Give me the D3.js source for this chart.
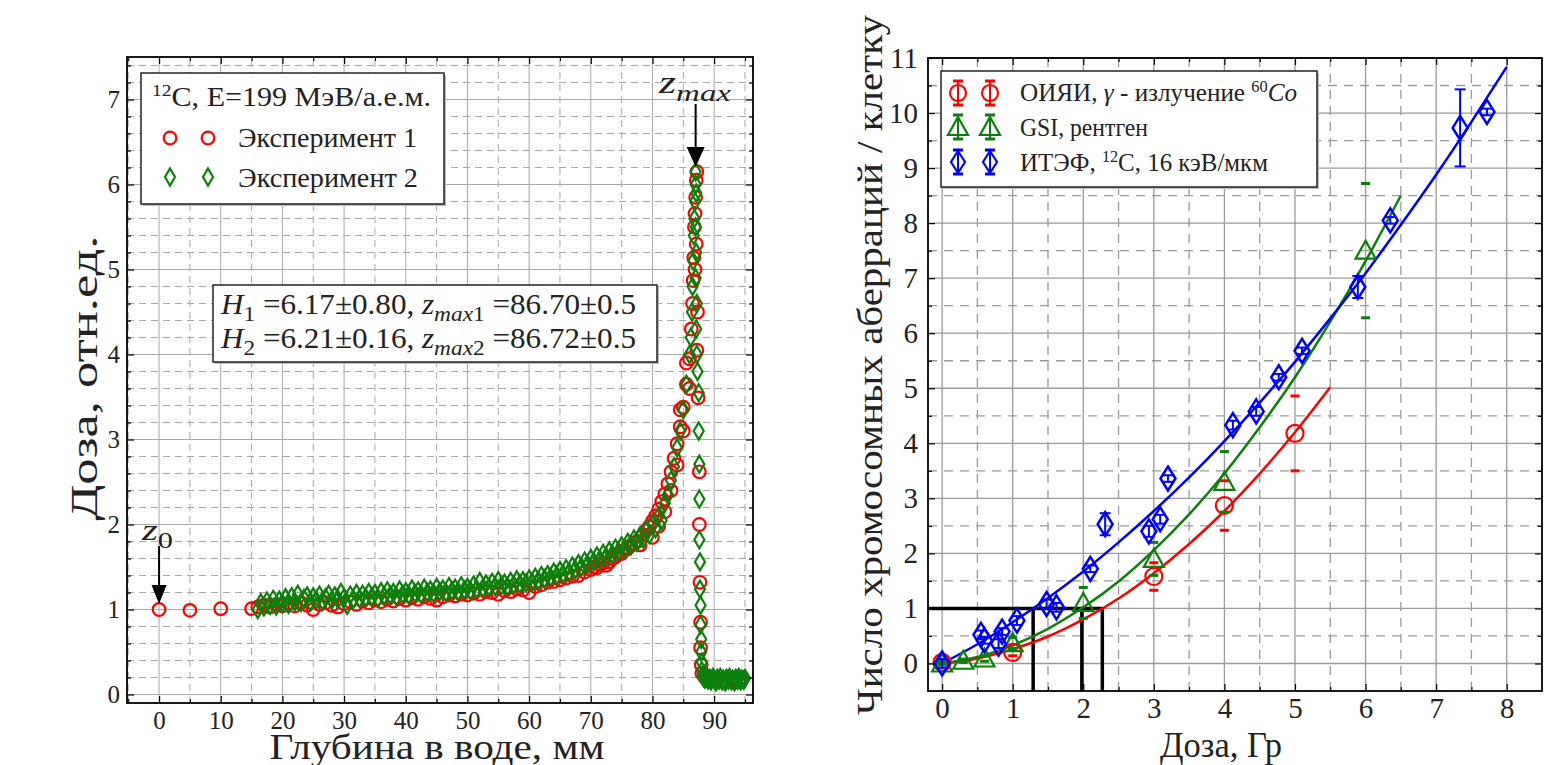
<!DOCTYPE html>
<html>
<head>
<meta charset="utf-8">
<script src="https://cdn.jsdelivr.net/npm/d3@7"></script>
<style>
  body { margin: 0; background: #fff; }
  svg text { font-family: "Liberation Serif", "DejaVu Serif", serif; fill: #222; white-space: pre; }
</style>
</head>
<body>
<svg id="fig" width="1551" height="765"></svg>
<script>
// ---------------- left panel: depth-dose curve (depth mm, relative dose) ----------------
const exp1Points = [
  [0,1.00],[5,0.99],[10,1.01],[15,1.01],
  [16,1.03],[17,1.05],[18,1.03],[19,1.06],[20,1.04],[21,1.07],[22,1.04],[23,1.08],[24,1.05],[25,1.00],
  [26,1.06],[27,1.08],[28,1.05],[29,1.03],[30,1.07],[31,1.09],[32,1.06],[33,1.10],[34,1.08],[35,1.11],
  [36,1.09],[37,1.12],[38,1.10],[39,1.13],[40,1.11],[41,1.14],[42,1.12],[43,1.15],[44,1.13],[45,1.11],
  [46,1.15],[47,1.17],[48,1.16],[49,1.18],[50,1.17],[51,1.19],[52,1.18],[53,1.21],[54,1.20],[55,1.18],
  [56,1.22],[57,1.21],[58,1.24],[59,1.23],[60,1.20],[61,1.27],[62,1.29],[63,1.32],[64,1.33],[65,1.35],
  [66,1.37],[67,1.39],[68,1.40],[69,1.44],[70,1.47],[70.5,1.50],[71,1.49],[71.5,1.53],[72,1.55],
  [72.5,1.52],[73,1.56],[73.5,1.60],[74,1.62],[74.5,1.65],[75,1.66],[75.5,1.70],[76,1.72],[76.5,1.75],
  [77,1.78],[77.5,1.80],[78,1.76],[78.5,1.88],[79,1.93],[79.5,1.98],[80,2.04],[80.5,2.10],[81,2.18],
  [81.5,2.27],[82,2.36],[82.5,2.48],[83,2.62],[83.5,2.78],[84,2.95],[84.5,3.15],[85,3.38],[85.5,3.65],
  [86,3.95],[80,1.85],[81,1.98],[82,2.15],[83,2.40],[84,2.70],[85,3.10],[86,3.60],[84.5,3.35],[85.5,3.90],
  [86.3,4.30],[86.5,4.60],[86.6,4.87],[86.7,5.14],[86.8,5.50],[86.9,5.66],[87,5.85],[87.1,6.05],
  [87.2,6.15],[86.9,5.00],[87.1,5.30],[87.3,4.50],[87.2,4.05],[87.4,3.49],
  [87.6,2.62],[87.6,2.00],[87.7,1.32],[87.8,0.85],[87.8,0.55],[87.9,0.35],[88,0.25],
  [88.5,0.20],[89,0.18],[90,0.17],[91,0.16],[92,0.16],[93,0.15],[94,0.15]
];
const exp2Points = [
  [16,1.00],[16.5,1.08],[17,1.03],[17.5,1.10],[18,1.05],[18.5,1.12],[19,1.04],[19.5,1.11],[20,1.07],
  [20.5,1.14],[21,1.06],[21.5,1.15],[22,1.09],[22.5,1.18],[23,1.08],[23.5,1.13],[24,1.16],[24.5,1.09],
  [25,1.15],[25.5,1.11],[26,1.17],[26.5,1.10],[27,1.14],[27.5,1.18],[28,1.11],[28.5,1.16],[29,1.12],
  [29.5,1.20],[30,1.14],[30.5,1.05],[31,1.17],[31.5,1.12],[32,1.19],[32.5,1.13],[33,1.18],[33.5,1.14],
  [34,1.20],[34.5,1.15],[35,1.19],[35.5,1.13],[36,1.21],[36.5,1.16],[37,1.22],[37.5,1.17],[38,1.20],
  [38.5,1.15],[39,1.23],[39.5,1.18],[40,1.21],[40.5,1.17],[41,1.24],[41.5,1.19],[42,1.22],[42.5,1.18],
  [43,1.25],[43.5,1.20],[44,1.23],[44.5,1.19],[45,1.26],[45.5,1.21],[46,1.24],[46.5,1.20],[47,1.27],
  [47.5,1.22],[48,1.25],[48.5,1.21],[49,1.28],[49.5,1.23],[50,1.26],[50.5,1.22],[51,1.29],[51.5,1.24],
  [52,1.33],[52.5,1.25],[53,1.30],[53.5,1.26],[54,1.32],[54.5,1.27],[55,1.34],[55.5,1.28],[56,1.31],
  [56.5,1.27],[57,1.33],[57.5,1.29],[58,1.35],[58.5,1.30],[59,1.34],[59.5,1.31],[60,1.36],[60.5,1.32],
  [61,1.38],[61.5,1.34],[62,1.40],[62.5,1.36],[63,1.41],[63.5,1.38],[64,1.44],[64.5,1.40],[65,1.46],
  [65.5,1.42],[66,1.48],[66.5,1.44],[67,1.51],[67.5,1.47],[68,1.54],[68.5,1.50],[69,1.57],[69.5,1.53],
  [70,1.60],[70.5,1.56],[71,1.63],[71.5,1.59],[72,1.66],[72.5,1.62],[73,1.69],[73.5,1.65],[74,1.72],
  [74.5,1.68],[75,1.75],[75.5,1.71],[76,1.79],[76.5,1.75],[77,1.83],[77.5,1.79],[78,1.87],[78.5,1.83],
  [79,1.93],[79.5,1.88],[80,2.00],[80.5,1.95],[81,2.10],[81.5,2.05],[82,2.25],[82.5,2.35],[83,2.52],
  [83.5,2.68],[84,2.90],[84.5,3.10],[85,3.35],[85.5,3.65],[86,4.00],
  [86.2,4.20],[86.4,4.50],[86.5,4.80],[86.6,5.10],[86.7,5.40],[86.8,5.60],[86.9,5.80],[87,6.00],
  [87,6.15],[87.1,5.90],[87,5.50],[87.1,5.20],[87,4.90],[87.2,4.60],[87.1,4.30],[87.2,4.00],[87.3,3.80],
  [87.5,3.55],[87.5,3.10],[87.6,2.71],[87.6,2.30],[87.6,1.82],[87.7,1.56],[87.7,1.24],[87.8,1.05],
  [87.8,0.82],[87.9,0.65],[87.9,0.50],[88,0.38],[88,0.28],[88.1,0.22],
  [88.3,0.20],[88.5,0.18],[88.8,0.21],[89,0.17],[89.3,0.19],[89.5,0.16],[89.8,0.20],[90,0.18],
  [90.3,0.15],[90.5,0.19],[90.8,0.17],[91,0.20],[91.3,0.16],[91.5,0.18],[91.8,0.15],[92,0.19],
  [92.3,0.17],[92.5,0.20],[92.8,0.16],[93,0.18],[93.3,0.15],[93.5,0.19],[93.8,0.17],[94,0.20],
  [94.3,0.16],[94.5,0.18],[94.8,0.17],[95,0.19]
];
const depthTicks = [0, 10, 20, 30, 40, 50, 60, 70, 80, 90];
const relDoseTicks = [0, 1, 2, 3, 4, 5, 6, 7];

// ---------------- right panel: aberrations per cell vs dose (Gy) ----------------
const jinrDose = [0, 1, 3, 4, 5];
const jinrAb   = [0.02, 0.20, 1.58, 2.87, 4.18];
const jinrErr  = [0.03, 0.06, 0.25, 0.45, 0.68];

const gsiDose = [0, 0.3, 0.6, 1, 2, 3, 4, 6];
const gsiAb   = [0.00, 0.05, 0.09, 0.37, 1.10, 1.90, 3.30, 7.50];
const gsiErr  = [0.03, 0.03, 0.05, 0.10, 0.28, 0.30, 0.55, 1.22];

const itepDose = [0, 0.55, 0.6, 0.8, 0.85, 1.06, 1.48, 1.62, 2.1, 2.31, 2.93, 3.09, 3.2, 4.12, 4.45, 4.77, 5.1, 5.89, 6.35, 7.34, 7.72];
const itepAb   = [0, 0.52, 0.42, 0.36, 0.58, 0.78, 1.08, 1.02, 1.72, 2.53, 2.40, 2.62, 3.36, 4.33, 4.58, 5.20, 5.68, 6.84, 8.05, 9.73, 10.02];
const itepErr  = [0.08, 0.08, 0.06, 0.08, 0.06, 0.08, 0.08, 0.08, 0.06, 0.20, 0.10, 0.08, 0.06, 0.08, 0.08, 0.06, 0.06, 0.20, 0.06, 0.70, 0.06];

// fitted curves, points
const jinrFit = [[0,0],[0.5,0.09],[1,0.26],[1.5,0.49],[2,0.80],[2.5,1.18],[3,1.64],[3.5,2.17],[4,2.77],[4.5,3.45],[5,4.20],[5.5,5.02]];
const gsiFit  = [[0,0],[0.5,0.12],[1,0.33],[1.5,0.63],[2,1.02],[2.5,1.49],[3,2.06],[3.5,2.71],[4,3.45],[4.5,4.29],[5,5.20],[5.5,6.21],[6,7.31],[6.5,8.50]];
const itepFit = [[0,0],[0.5,0.35],[1,0.75],[1.5,1.19],[2,1.67],[2.5,2.20],[3,2.77],[3.5,3.38],[4,4.04],[4.5,4.74],[5,5.48],[5.5,6.27],[6,7.09],[6.5,7.97],[7,8.88],[7.5,9.84],[8,10.84]];

// dose thresholds giving 1 aberration per cell (black guide lines)
const refLevel = 1;
const refDoses = [1.29, 1.98, 2.27];

const doseTicks = [0, 1, 2, 3, 4, 5, 6, 7, 8];
const abTicks = [0, 1, 2, 3, 4, 5, 6, 7, 8, 9, 10, 11];

const RED = "#ff0000", GREEN = "#0a800a", BLUE = "#0000ff";

const svg = d3.select("#fig");

// text with italic / sub / sup pieces; width forces the overall length when given
function richText(parent, x, y, size, parts, width) {
  const t = parent.append("text").attr("x", x).attr("y", y).style("font-size", size + "px");
  if (width) t.attr("textLength", width).attr("lengthAdjust", "spacingAndGlyphs");
  let shift = 0;
  parts.forEach(([str, kind]) => {
    let target = 0, fs = size;
    const italic = kind === "i" || kind === "isub";
    if (kind === "sub" || kind === "isub") { target = size * 0.25; fs = size * 0.75; }
    if (kind === "sup") { target = -size * 0.38; fs = size * 0.65; }
    t.append("tspan").attr("dy", target - shift)
      .style("font-size", fs + "px")
      .style("font-style", italic ? "italic" : "normal")
      .text(str);
    shift = target;
  });
  return t;
}

// grid lines (solid majors, dashed minors)
function drawGrid(g, x, y, xMaj, xMin, yMaj, yMin, col, dash, w) {
  const [ x0, x1 ] = x.range(), [ y0, y1 ] = y.range();
  const vl = (vals, dashed) => g.append("g").selectAll("line").data(vals).enter().append("line")
      .attr("x1", d => x(d)).attr("x2", d => x(d)).attr("y1", y0).attr("y2", y1)
      .style("stroke", col).style("stroke-width", w)
      .style("stroke-dasharray", dashed ? dash : null);
  const hl = (vals, dashed) => g.append("g").selectAll("line").data(vals).enter().append("line")
      .attr("y1", d => y(d)).attr("y2", d => y(d)).attr("x1", x0).attr("x2", x1)
      .style("stroke", col).style("stroke-width", w)
      .style("stroke-dasharray", dashed ? dash : null);
  vl(xMin, true); hl(yMin, true); vl(xMaj, false); hl(yMaj, false);
}

// frame + inward ticks on all sides + tick labels
function drawFrame(g, x, y, xMaj, xMin, yMaj, yMin, fontSize, padX, padY) {
  const [ x0, x1 ] = x.range(), [ y0, y1 ] = y.range();
  const ax = (axis, tx, ty) => {
    const a = g.append("g").attr("transform", `translate(${tx},${ty})`).call(axis);
    a.select(".domain").remove();
    a.selectAll("line").style("stroke", "#000").style("stroke-width", 1.2);
    return a;
  };
  const bot = ax(d3.axisBottom(x).tickValues(xMaj).tickSize(-7).tickPadding(padX), 0, y0);
  ax(d3.axisBottom(x).tickValues(xMin).tickSize(-4).tickFormat(""), 0, y0);
  ax(d3.axisTop(x).tickValues(xMaj).tickSize(-7).tickFormat(""), 0, y1);
  ax(d3.axisTop(x).tickValues(xMin).tickSize(-4).tickFormat(""), 0, y1);
  const lef = ax(d3.axisLeft(y).tickValues(yMaj).tickSize(-7).tickPadding(padY), x0, 0);
  ax(d3.axisLeft(y).tickValues(yMin).tickSize(-4).tickFormat(""), x0, 0);
  ax(d3.axisRight(y).tickValues(yMaj).tickSize(-7).tickFormat(""), x1, 0);
  ax(d3.axisRight(y).tickValues(yMin).tickSize(-4).tickFormat(""), x1, 0);
  [bot, lef].forEach(a => a.selectAll("text").style("font-size", fontSize + "px").style("fill", "#222"));
  g.append("rect").attr("x", x0).attr("y", y1).attr("width", x1 - x0).attr("height", y0 - y1)
    .style("fill", "none").style("stroke", "#000").style("stroke-width", 1.8);
}

function boxWithShadow(g, x, y, w, h) {
  g.append("rect").attr("x", x + 2).attr("y", y + 2).attr("width", w).attr("height", h).style("fill", "#bbb");
  g.append("rect").attr("x", x).attr("y", y).attr("width", w).attr("height", h)
    .style("fill", "#fff").style("stroke", "#222").style("stroke-width", 1.5);
}

const isInt = v => Math.abs(v - Math.round(v)) < 1e-6;

// ================= LEFT PANEL =================
const lx = d3.scaleLinear().domain([-5.2, 96.3]).range([127, 753]);
const ly = d3.scaleLinear().domain([-0.1, 7.5]).range([703, 57]);
const gL = svg.append("g");

const depthMinor = d3.range(-5, 96, 5).filter(v => v % 10 !== 0);
const relMinor = d3.range(0, 7.5, 0.2).filter(v => !isInt(v));
drawGrid(gL, lx, ly, depthTicks, depthMinor, relDoseTicks, relMinor, "#a8a8a8", "7,5", 1);

const diamondPath = (hw, hh) => `M0,${-hh}L${hw},0L0,${hh}L${-hw},0Z`;

gL.append("g").selectAll("circle").data(exp1Points).enter().append("circle")
  .attr("cx", d => lx(d[0])).attr("cy", d => ly(d[1])).attr("r", 6.3)
  .style("fill", "none").style("stroke", RED).style("stroke-width", 2.2);
gL.append("g").selectAll("path").data(exp2Points).enter().append("path")
  .attr("transform", d => `translate(${lx(d[0])},${ly(d[1])})`)
  .attr("d", diamondPath(5, 8.5))
  .style("fill", "none").style("stroke", GREEN).style("stroke-width", 2.2);

drawFrame(gL, lx, ly, depthTicks, depthMinor, relDoseTicks, relMinor, 25, 8, 7);

// arrows for z0 and zmax
function arrowDown(g, x, yTop, yTip, headW, headH) {
  g.append("line").attr("x1", x).attr("x2", x).attr("y1", yTop).attr("y2", yTip - headH + 2)
    .style("stroke", "#000").style("stroke-width", 2);
  g.append("path").attr("d", `M${x},${yTip}L${x - headW / 2},${yTip - headH}L${x + headW / 2},${yTip - headH}Z`)
    .style("fill", "#000");
}
arrowDown(gL, lx(0), 546, 604, 15, 19);
arrowDown(gL, lx(87), 104, 167, 18, 20);
richText(gL, 142, 540, 30, [["z", "i"], ["0", "sub"]], 31);
richText(gL, 659, 93, 32, [["z", "i"], ["max", "isub"]], 72);

// legend
boxWithShadow(gL, 141, 73, 303, 131);
richText(gL, 152, 106, 27, [["12", "sup"], ["C, E=199 МэВ/а.е.м.", ""]], 279);
[170, 208].forEach(cx => {
  gL.append("circle").attr("cx", cx).attr("cy", 138).attr("r", 6.3)
    .style("fill", "none").style("stroke", RED).style("stroke-width", 2.2);
  gL.append("path").attr("transform", `translate(${cx},177)`).attr("d", diamondPath(5, 8.5))
    .style("fill", "none").style("stroke", GREEN).style("stroke-width", 2.2);
});
gL.append("text").attr("x", 238).attr("y", 147).style("font-size", "27px")
  .attr("textLength", 179).attr("lengthAdjust", "spacingAndGlyphs").text("Эксперимент 1");
gL.append("text").attr("x", 238).attr("y", 187).style("font-size", "27px")
  .attr("textLength", 180).attr("lengthAdjust", "spacingAndGlyphs").text("Эксперимент 2");

// fit result box
boxWithShadow(gL, 213, 285, 444, 77);
richText(gL, 221, 314, 29, [["H", "i"], ["1", "sub"], [" =6.17±0.80, ", ""], ["z", "i"], ["max", "isub"], ["1", "sub"], [" =86.70±0.5", ""]], 415);
richText(gL, 221, 348, 29, [["H", "i"], ["2", "sub"], [" =6.21±0.16, ", ""], ["z", "i"], ["max", "isub"], ["2", "sub"], [" =86.72±0.5", ""]], 415);

// axis titles
gL.append("text").attr("x", 437).attr("y", 759).attr("text-anchor", "middle")
  .attr("textLength", 335).attr("lengthAdjust", "spacingAndGlyphs")
  .style("font-size", "36px").text("Глубина в воде, мм");
gL.append("text").attr("transform", "translate(97,378) rotate(-90)").attr("text-anchor", "middle")
  .attr("textLength", 285).attr("lengthAdjust", "spacingAndGlyphs")
  .style("font-size", "38px").text("Доза, отн.ед.");

// ================= RIGHT PANEL =================
const rx = d3.scaleLinear().domain([-0.2, 8.5]).range([928, 1542]);
const ry = d3.scaleLinear().domain([-0.5, 11]).range([691, 58]);
const gR = svg.append("g");

const doseMinor = d3.range(0.5, 8.5, 1);
const abMinor = d3.range(-0.5, 11, 1).filter(v => v > -0.5);
drawGrid(gR, rx, ry, doseTicks, doseMinor, abTicks, abMinor, "#9a9a9a", "9,7", 1.3);

// black guide lines at 1 aberration/cell
gR.append("line").attr("x1", rx.range()[0]).attr("x2", rx(d3.max(refDoses)))
  .attr("y1", ry(refLevel)).attr("y2", ry(refLevel))
  .style("stroke", "#000").style("stroke-width", 3.5);
gR.append("g").selectAll("line").data(refDoses).enter().append("line")
  .attr("x1", d => rx(d)).attr("x2", d => rx(d)).attr("y1", ry(refLevel)).attr("y2", ry.range()[0])
  .style("stroke", "#000").style("stroke-width", 3.5);

// fit curves
const fitLine = d3.line().x(d => rx(d[0])).y(d => ry(d[1])).curve(d3.curveNatural);
[[jinrFit, RED], [gsiFit, GREEN], [itepFit, BLUE]].forEach(([pts, c]) => {
  gR.append("path").attr("d", fitLine(pts)).style("fill", "none").style("stroke", c).style("stroke-width", 2.5);
});

const trianglePath = "M0,-10L10,8L-10,8Z";

// error bar caps (and stem when wanted)
function errBars(g, xs, ys, es, col, stem, capW, capT) {
  const data = xs.map((d, i) => ({ x: xs[i], y: ys[i], e: es[i] }));
  const eg = g.append("g");
  if (stem) {
    eg.selectAll(".stem").data(data).enter().append("line")
      .attr("x1", d => rx(d.x)).attr("x2", d => rx(d.x))
      .attr("y1", d => ry(d.y - d.e)).attr("y2", d => ry(d.y + d.e))
      .style("stroke", col).style("stroke-width", 2);
  }
  [-1, 1].forEach(s => {
    eg.selectAll(".cap" + s).data(data).enter().append("line")
      .attr("x1", d => rx(d.x) - capW / 2).attr("x2", d => rx(d.x) + capW / 2)
      .attr("y1", d => ry(d.y + s * d.e)).attr("y2", d => ry(d.y + s * d.e))
      .style("stroke", col).style("stroke-width", capT);
  });
}

errBars(gR, jinrDose, jinrAb, jinrErr, RED, false, 9, 3);
gR.append("g").selectAll("circle").data(jinrDose).enter().append("circle")
  .attr("cx", d => rx(d)).attr("cy", (d, i) => ry(jinrAb[i])).attr("r", 8.5)
  .style("fill", "none").style("stroke", RED).style("stroke-width", 2.2);

errBars(gR, gsiDose, gsiAb, gsiErr, GREEN, false, 9, 3);
gR.append("g").selectAll("path").data(gsiDose).enter().append("path")
  .attr("transform", (d, i) => `translate(${rx(d)},${ry(gsiAb[i])})`).attr("d", trianglePath)
  .style("fill", "none").style("stroke", GREEN).style("stroke-width", 2.2);

errBars(gR, itepDose, itepAb, itepErr, BLUE, true, 11, 2);
gR.append("g").selectAll("path").data(itepDose).enter().append("path")
  .attr("transform", (d, i) => `translate(${rx(d)},${ry(itepAb[i])})`).attr("d", diamondPath(7.5, 12))
  .style("fill", "none").style("stroke", BLUE).style("stroke-width", 2.5);

drawFrame(gR, rx, ry, doseTicks, doseMinor, abTicks, abMinor, 29, 6, 10);

// legend
boxWithShadow(gR, 941, 71, 376, 116);
const legendRows = [
  { y: 93, col: RED, shape: "circle" },
  { y: 127, col: GREEN, shape: "triangle" },
  { y: 162, col: BLUE, shape: "diamond" }
];
legendRows.forEach(r => {
  [958, 990].forEach(cx => {
    gR.append("line").attr("x1", cx).attr("x2", cx).attr("y1", r.y - 12).attr("y2", r.y + 12)
      .style("stroke", r.col).style("stroke-width", 2);
    [-12, 12].forEach(o => gR.append("line").attr("x1", cx - 5).attr("x2", cx + 5)
      .attr("y1", r.y + o).attr("y2", r.y + o).style("stroke", r.col).style("stroke-width", 3));
    let m;
    if (r.shape === "circle") m = gR.append("circle").attr("cx", cx).attr("cy", r.y).attr("r", 8);
    else m = gR.append("path").attr("transform", `translate(${cx},${r.y})`)
      .attr("d", r.shape === "triangle" ? trianglePath : diamondPath(7, 11));
    m.style("fill", "none").style("stroke", r.col).style("stroke-width", 2.2);
  });
});
richText(gR, 1020, 101, 25, [["ОИЯИ, ", ""], ["γ", "i"], [" - излучение ", ""], ["60", "sup"], ["Co", "i"]], 277);
gR.append("text").attr("x", 1020).attr("y", 136).style("font-size", "25px")
  .attr("textLength", 128).attr("lengthAdjust", "spacingAndGlyphs").text("GSI, рентген");
richText(gR, 1020, 171, 25, [["ИТЭФ, ", ""], ["12", "sup"], ["C, 16 кэВ/мкм", ""]], 248);

// axis titles
gR.append("text").attr("x", 1221).attr("y", 757).attr("text-anchor", "middle")
  .attr("textLength", 122).attr("lengthAdjust", "spacingAndGlyphs")
  .style("font-size", "36px").text("Доза, Гр");
gR.append("text").attr("transform", "translate(882,365) rotate(-90)").attr("text-anchor", "middle")
  .attr("textLength", 700).attr("lengthAdjust", "spacingAndGlyphs")
  .style("font-size", "36px").text("Число хромосомных аберраций / клетку");
</script>
</body>
</html>
